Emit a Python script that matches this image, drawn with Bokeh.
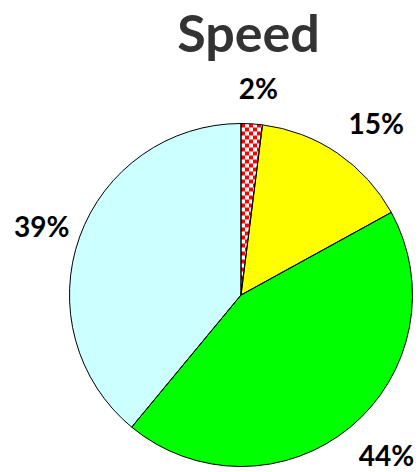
import math
from bokeh.plotting import figure
from bokeh.models import Range1d, ColumnDataSource
from bokeh.core.properties import value
from bokeh.embed import file_html
from bokeh.resources import INLINE

# ---- data ----
title_text = "Speed"
shares = [2, 15, 44, 39]
labels = ["2%", "15%", "44%", "39%"]
colors = ["#FFFFFF", "#FFFF00", "#00FF00", "#CCFFFF"]

# ---- layout / style ----
W, H = 419, 472
cx, cy_down, R = 240.5, 294.5, 171.5
label_R = 214
label_dx = [4, 15, 9, 2]
# y-down target centres of the labels (layout only)
label_y_target = [87, 122, 454, 225]
CHECK = 4  # checker square size, px

total = float(sum(shares))
starts, ends, mids = [], [], []
acc = 0.0
for s in shares:
    a0 = math.pi / 2 - 2 * math.pi * acc / total
    acc += s
    a1 = math.pi / 2 - 2 * math.pi * acc / total
    starts.append(a0)
    ends.append(a1)
    mids.append((a0 + a1) / 2)

cy = H - cy_down

p = figure(width=W, height=H, output_backend="svg", toolbar_location=None,
           x_range=Range1d(0, W), y_range=Range1d(0, H), min_border=0)
p.axis.visible = False
p.grid.visible = False
p.outline_line_color = None
p.background_fill_color = "#FFFFFF"
p.border_fill_color = "#FFFFFF"

src = ColumnDataSource(dict(start=starts, end=ends, color=colors))
p.wedge(x=cx, y=cy, radius=R, start_angle="start", end_angle="end",
        direction="clock", fill_color="color", line_color=None, source=src)


# ---- checker pattern for the first slice (clip squares to the wedge) ----
def clip(subject, clipper):
    def inside(pt, a, b):
        return (b[0] - a[0]) * (pt[1] - a[1]) - (b[1] - a[1]) * (pt[0] - a[0]) >= 0

    def inter(p1, p2, a, b):
        x1, y1 = p1; x2, y2 = p2; x3, y3 = a; x4, y4 = b
        den = (x1 - x2) * (y3 - y4) - (y1 - y2) * (x3 - x4)
        t = ((x1 - x3) * (y3 - y4) - (y1 - y3) * (x3 - x4)) / den
        return (x1 + t * (x2 - x1), y1 + t * (y2 - y1))

    out = subject
    n = len(clipper)
    for i in range(n):
        a, b = clipper[i], clipper[(i + 1) % n]
        inp, out = out, []
        if not inp:
            break
        s = inp[-1]
        for e in inp:
            if inside(e, a, b):
                if not inside(s, a, b):
                    out.append(inter(s, e, a, b))
                out.append(e)
            elif inside(s, a, b):
                out.append(inter(s, e, a, b))
            s = e
    return out


a0, a1 = starts[0], ends[0]
arc = [(cx + R * math.cos(a0 + (a1 - a0) * k / 30), cy + R * math.sin(a0 + (a1 - a0) * k / 30))
       for k in range(31)]
wedge_poly = [(cx, cy)] + arc
area = sum(wedge_poly[i][0] * wedge_poly[(i + 1) % len(wedge_poly)][1]
           - wedge_poly[(i + 1) % len(wedge_poly)][0] * wedge_poly[i][1]
           for i in range(len(wedge_poly)))
if area < 0:
    wedge_poly = wedge_poly[::-1]

xmin = min(q[0] for q in wedge_poly); xmax = max(q[0] for q in wedge_poly)
ymin = min(q[1] for q in wedge_poly); ymax = max(q[1] for q in wedge_poly)
top = cy + R
xs, ys = [], []
i = int(math.floor((xmin - cx) / CHECK)) - 1
while cx + i * CHECK < xmax + CHECK:
    j = 0
    while top - (j + 1) * CHECK > ymin - CHECK:
        if (i + j) % 2 == 0:
            x0 = cx + i * CHECK
            y1 = top - j * CHECK
            sq = [(x0, y1 - CHECK), (x0 + CHECK, y1 - CHECK), (x0 + CHECK, y1), (x0, y1)]
            poly = clip(sq, wedge_poly)
            if len(poly) >= 3:
                xs.append([q[0] for q in poly])
                ys.append([q[1] for q in poly])
        j += 1
    i += 1
p.patches(xs=xs, ys=ys, fill_color="#FF0000", line_color=None)

# outlines on top
p.wedge(x=cx, y=cy, radius=R, start_angle="start", end_angle="end",
        direction="clock", fill_color=None, line_color="#000000",
        line_width=1, source=src)

lx = [cx + label_R * math.cos(m) + dx for m, dx in zip(mids, label_dx)]
ly = [H - t for t in label_y_target]
p.text(x=lx, y=ly, text=labels, text_font=value("Lato"), text_font_style="bold",
       text_font_size="28px", text_color="#000000", text_align="center",
       text_baseline="middle")

p.text(x=[248], y=[H - 31], text=[title_text], text_font=value("Lato"),
       text_font_style="bold", text_font_size="52px", text_color="#333333",
       text_align="center", text_baseline="middle")

open("out.html", "w").write(file_html(p, INLINE))
